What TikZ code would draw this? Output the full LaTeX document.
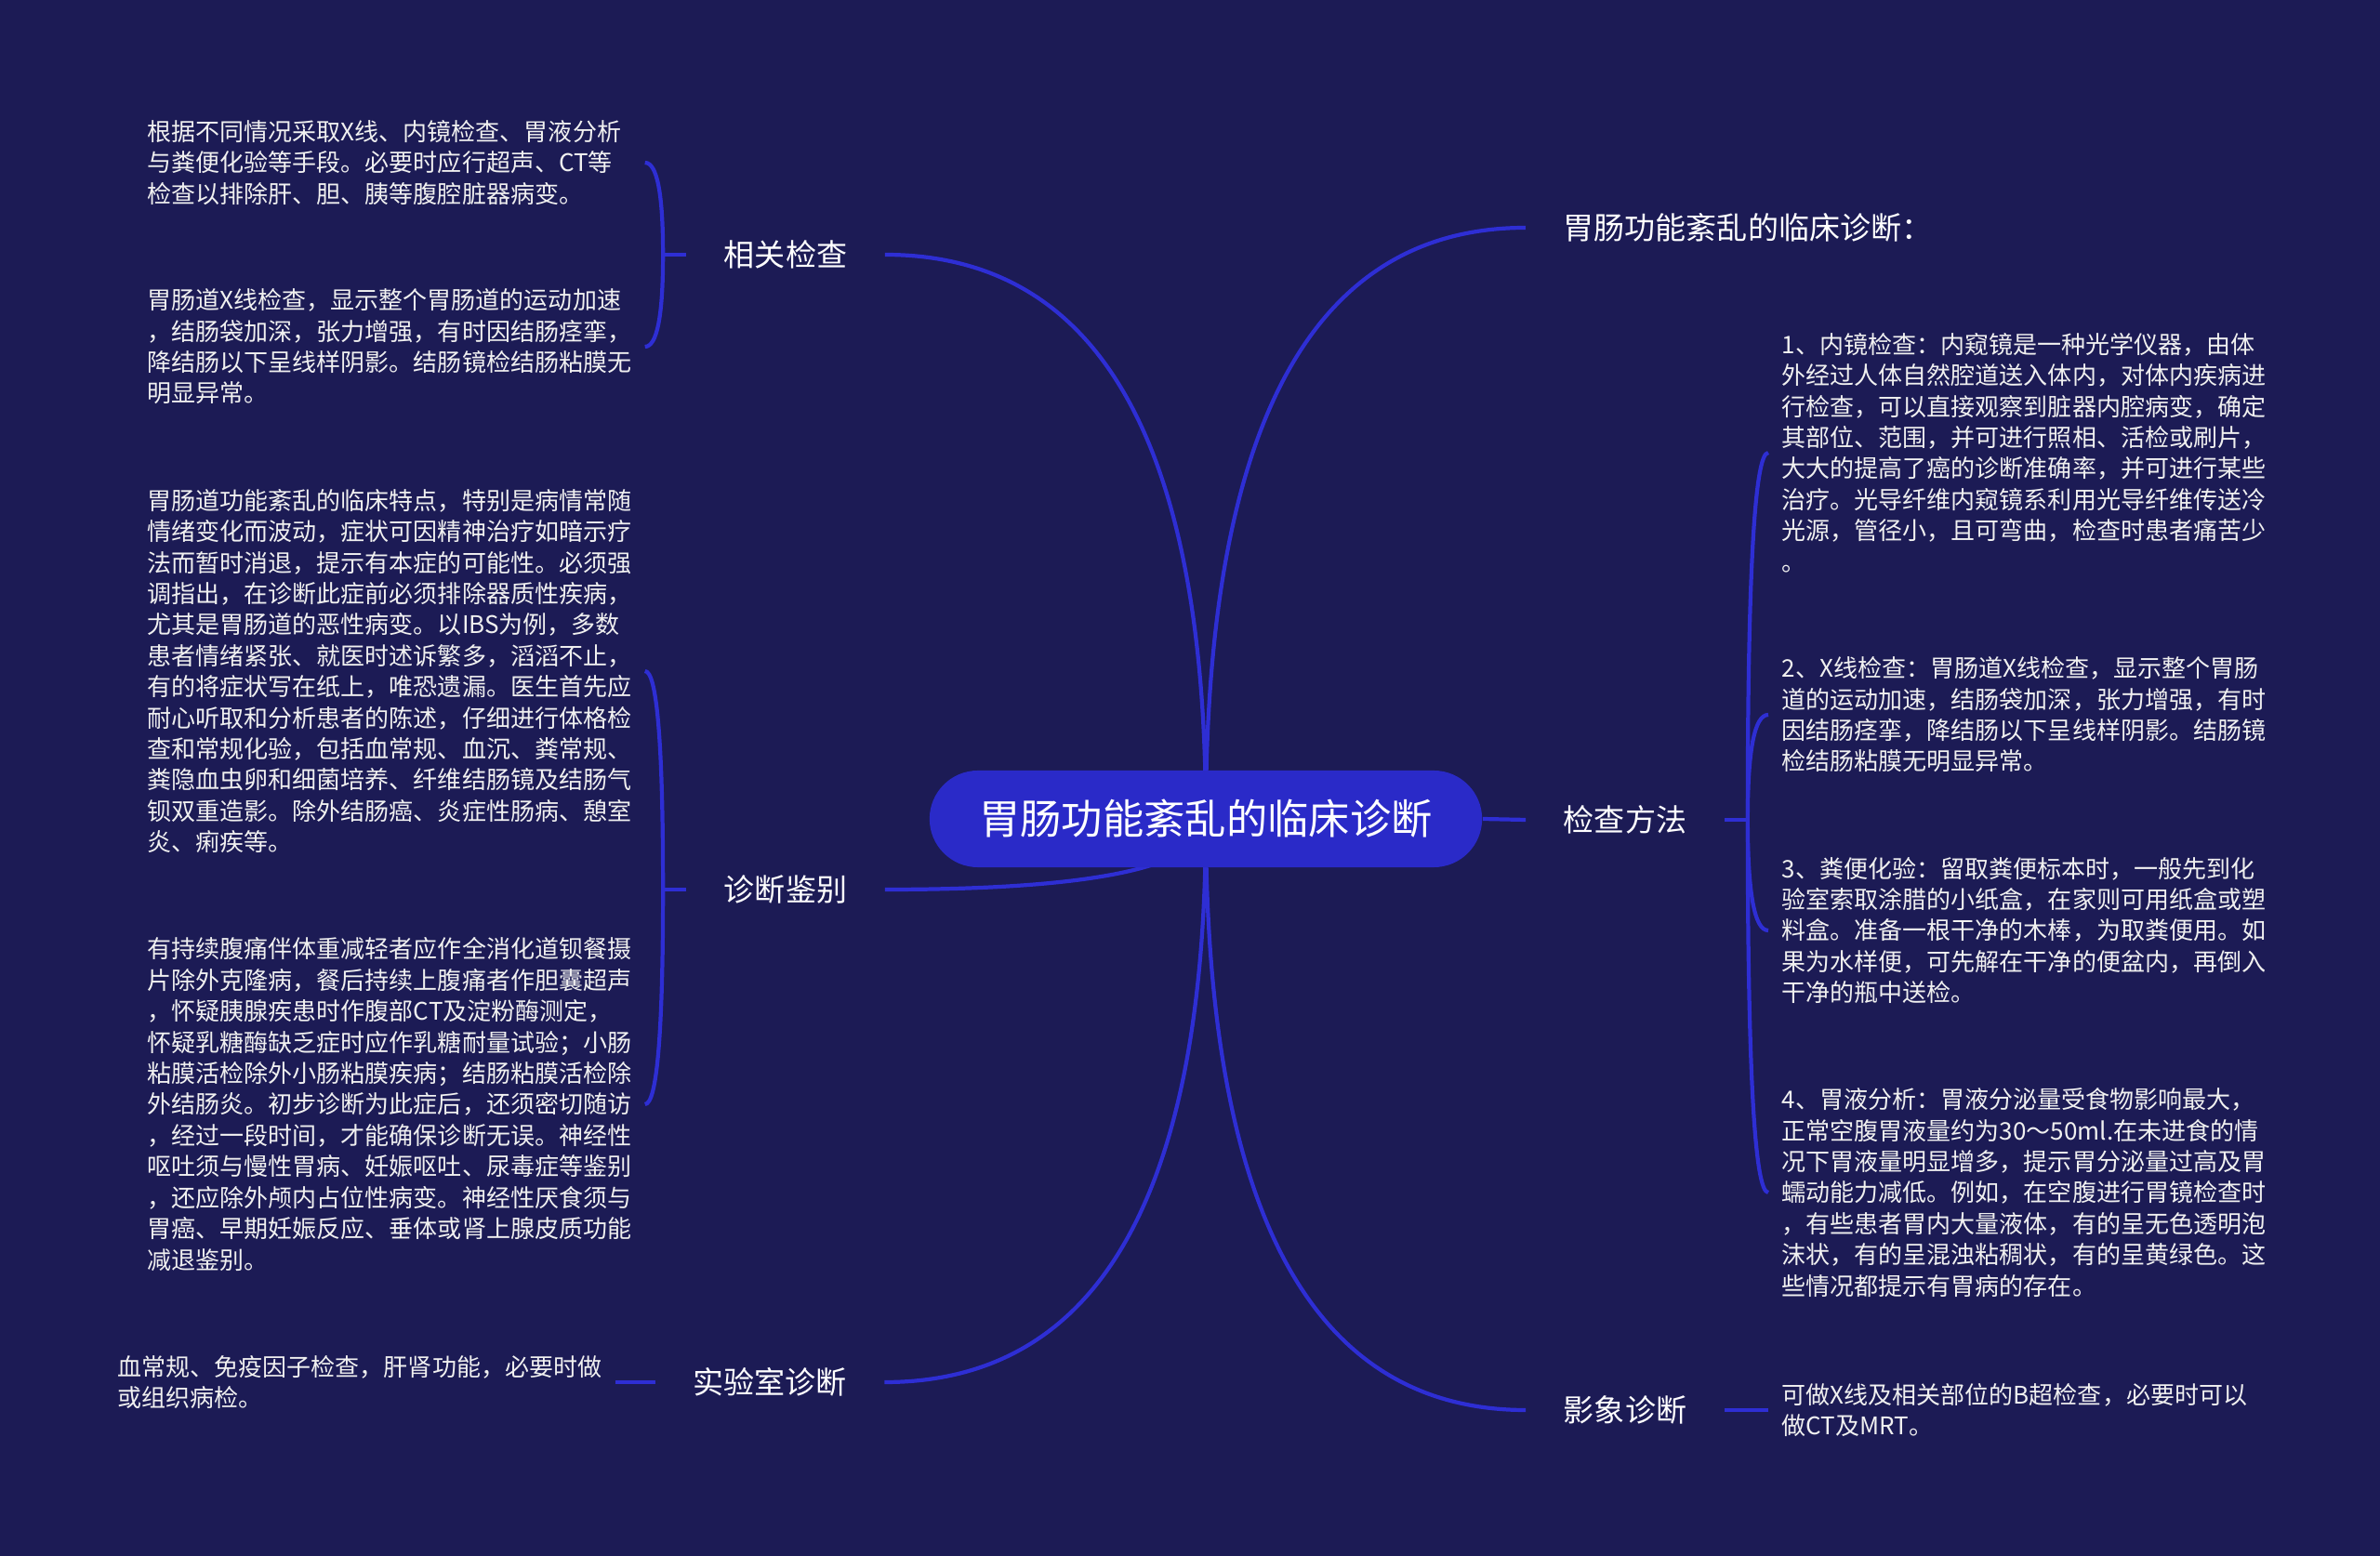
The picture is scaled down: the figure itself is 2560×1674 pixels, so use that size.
\documentclass[tikz,border=0pt]{standalone}
\usepackage{fontspec}
\newfontfamily\cjk{Noto Sans CJK SC}
\usetikzlibrary{calc}
\definecolor{bgnavy}{HTML}{1C1B55}
\definecolor{hubblue}{HTML}{2A2AC8}
\definecolor{linkblue}{HTML}{2E2ED4}
\pgfdeclarelayer{back}
\pgfdeclarelayer{links}
\pgfsetlayers{back,links,main}
\newcommand{\curvelink}[2]{\draw[link] (#1) .. controls ($(#1)!0.667!(#1|-#2)$) and ($(#2)!0.667!(#1|-#2)$) .. (#2);}

\begin{document}
\begin{tikzpicture}[x=0.01cm,y=-0.01cm]
	\tikzstyle{hub}=[rectangle, rounded corners=0.52cm, fill=hubblue, text=white, minimum width=5.94cm, minimum height=1.04cm, font=\cjk\fontsize{12.6}{15}\selectfont]
	\tikzstyle{topic}=[inner xsep=0.4cm, text=white, font=\cjk\fontsize{9.4}{11}\selectfont]
	\tikzstyle{leaf}=[text width=5.2cm, inner xsep=0.14cm, align=left, text=white!94!black, font=\cjk\fontsize{7.4}{9.5}\selectfont]
	\tikzstyle{link}=[draw=linkblue, line width=1.2pt]
	\begin{pgfonlayer}{back}
		\fill[bgnavy] (0,0) rectangle (2560,1674);
	\end{pgfonlayer}
	\node[hub] (hub) at (1297,881) {胃肠功能紊乱的临床诊断};
	% left side
	\node[topic] (t1) at (845,274) {相关检查};
	\node[topic] (t2) at (845,957) {诊断鉴别};
	\node[topic] (t3) at (828,1487) {实验室诊断};
	\node[leaf, anchor=west] (a1) at (144,175) {根据不同情况采取X线、内镜检查、胃液分析\\与粪便化验等手段。必要时应行超声、CT等\\检查以排除肝、胆、胰等腹腔脏器病变。};
	\node[leaf, anchor=west] (a2) at (144,373) {胃肠道X线检查，显示整个胃肠道的运动加速\\，结肠袋加深，张力增强，有时因结肠痉挛，\\降结肠以下呈线样阴影。结肠镜检结肠粘膜无\\明显异常。};
	\node[leaf, anchor=west] (a3) at (144,722) {胃肠道功能紊乱的临床特点，特别是病情常随\\情绪变化而波动，症状可因精神治疗如暗示疗\\法而暂时消退，提示有本症的可能性。必须强\\调指出，在诊断此症前必须排除器质性疾病，\\尤其是胃肠道的恶性病变。以IBS为例，多数\\患者情绪紧张、就医时述诉繁多，滔滔不止，\\有的将症状写在纸上，唯恐遗漏。医生首先应\\耐心听取和分析患者的陈述，仔细进行体格检\\查和常规化验，包括血常规、血沉、粪常规、\\粪隐血虫卵和细菌培养、纤维结肠镜及结肠气\\钡双重造影。除外结肠癌、炎症性肠病、憩室\\炎、痢疾等。};
	\node[leaf, anchor=west] (a4) at (144,1188) {有持续腹痛伴体重减轻者应作全消化道钡餐摄\\片除外克隆病，餐后持续上腹痛者作胆囊超声\\，怀疑胰腺疾患时作腹部CT及淀粉酶测定，\\怀疑乳糖酶缺乏症时应作乳糖耐量试验；小肠\\粘膜活检除外小肠粘膜疾病；结肠粘膜活检除\\外结肠炎。初步诊断为此症后，还须密切随访\\，经过一段时间，才能确保诊断无误。神经性\\呕吐须与慢性胃病、妊娠呕吐、尿毒症等鉴别\\，还应除外颅内占位性病变。神经性厌食须与\\胃癌、早期妊娠反应、垂体或肾上腺皮质功能\\减退鉴别。};
	\node[leaf, anchor=west] (a5) at (112,1487) {血常规、免疫因子检查，肝肾功能，必要时做\\或组织病检。};
	% right side
	\node[topic] (r1) at (1880,245) {胃肠功能紊乱的临床诊断：};
	\node[topic] (r2) at (1748,882) {检查方法};
	\node[topic] (r3) at (1748,1517) {影象诊断};
	\node[leaf, anchor=west] (b1) at (1902,487) {1、内镜检查：内窥镜是一种光学仪器，由体\\外经过人体自然腔道送入体内，对体内疾病进\\行检查，可以直接观察到脏器内腔病变，确定\\其部位、范围，并可进行照相、活检或刷片，\\大大的提高了癌的诊断准确率，并可进行某些\\治疗。光导纤维内窥镜系利用光导纤维传送冷\\光源，管径小，且可弯曲，检查时患者痛苦少\\。};
	\node[leaf, anchor=west] (b2) at (1902,769) {2、X线检查：胃肠道X线检查，显示整个胃肠\\道的运动加速，结肠袋加深，张力增强，有时\\因结肠痉挛，降结肠以下呈线样阴影。结肠镜\\检结肠粘膜无明显异常。};
	\node[leaf, anchor=west] (b3) at (1902,1001) {3、粪便化验：留取粪便标本时，一般先到化\\验室索取涂腊的小纸盒，在家则可用纸盒或塑\\料盒。准备一根干净的木棒，为取粪便用。如\\果为水样便，可先解在干净的便盆内，再倒入\\干净的瓶中送检。};
	\node[leaf, anchor=west] (b4) at (1902,1283) {4、胃液分析：胃液分泌量受食物影响最大，\\正常空腹胃液量约为30～50ml.在未进食的情\\况下胃液量明显增多，提示胃分泌量过高及胃\\蠕动能力减低。例如，在空腹进行胃镜检查时\\，有些患者胃内大量液体，有的呈无色透明泡\\沫状，有的呈混浊粘稠状，有的呈黄绿色。这\\些情况都提示有胃病的存在。};
	\node[leaf, anchor=west] (b5) at (1902,1517) {可做X线及相关部位的B超检查，必要时可以\\做CT及MRT。};
	\coordinate (j1) at ($(t1.west)+(-25,0)$);
	\coordinate (j2) at ($(t2.west)+(-25,0)$);
	\coordinate (j3) at ($(r2.east)+(25,0)$);
	\begin{pgfonlayer}{links}
		\curvelink{hub.center}{t1.east}
		\curvelink{hub.center}{t2.east}
		\curvelink{hub.center}{t3.east}
		\curvelink{hub.center}{r1.west}
		\curvelink{hub.center}{r3.west}
		\draw[link] (hub.east) -- (r2.west);
		\draw[link] (t1.west) -- (j1);
		\draw[link] (t2.west) -- (j2);
		\draw[link] (r2.east) -- (j3);
		\curvelink{j1}{a1.east}
		\curvelink{j1}{a2.east}
		\curvelink{j2}{a3.east}
		\curvelink{j2}{a4.east}
		\draw[link] (a5.east) -- (t3.west);
		\foreach \leaf in {b1,b2,b3,b4} {\curvelink{j3}{\leaf.west}}
		\draw[link] (r3.east) -- (b5.west);
	\end{pgfonlayer}
\end{tikzpicture}
\end{document}
